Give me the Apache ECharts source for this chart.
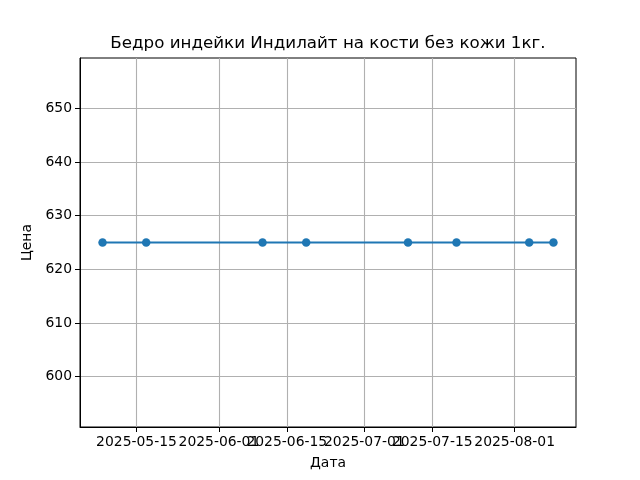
<!DOCTYPE html>
<html><head><meta charset="utf-8">
<script src="https://cdn.jsdelivr.net/npm/echarts@6/dist/echarts.min.js"></script>
<style>html,body{margin:0;padding:0;background:#fff}#c{width:640px;height:480px}</style>
</head><body><div id="c"></div>
<script>
const dates = ["2025-05-08","2025-05-17","2025-06-10","2025-06-19","2025-07-10","2025-07-20","2025-08-04","2025-08-09"];
const prices = [625,625,625,625,625,625,625,625];
const xTickLabels = ["2025-05-15","2025-06-01","2025-06-15","2025-07-01","2025-07-15","2025-08-01"];
const yTicks = [600,610,620,630,640,650];
const title = "Бедро индейки Индилайт на кости без кожи 1кг.";

const ts = s => { const [y,m,d] = s.split('-').map(Number); return Date.UTC(y,m-1,d); };
const xs = dates.map(ts);
const span = xs[xs.length-1]-xs[0];
const xMin = xs[0]-0.05*span, xMax = xs[xs.length-1]+0.05*span;
const v = prices[0];
const yMin = v - 0.055*v, yMax = v + 0.055*v;
const xTickVals = xTickLabels.map(ts);
const pad = n => String(n).padStart(2,'0');
const fmt = t => { const d = new Date(t); return d.getUTCFullYear()+'-'+pad(d.getUTCMonth()+1)+'-'+pad(d.getUTCDate()); };
const F = 'DejaVu Sans';
const chart = echarts.init(document.getElementById('c'));
chart.setOption({
  animation:false,
  graphic:[{type:'text',x:328,y:44,style:{text:title,fontFamily:F,fontSize:16.7,fill:'#000',align:'center',verticalAlign:'middle'}}],
  grid:{left:80,right:64,top:58,bottom:53,show:true,borderColor:'#000',borderWidth:1,backgroundColor:'transparent'},
  xAxis:{type:'value',min:xMin,max:xMax,name:'Дата',nameLocation:'middle',nameGap:29,
    nameTextStyle:{fontFamily:F,fontSize:13.9,color:'#000'},
    axisLine:{show:true,onZero:false,lineStyle:{color:'#000',width:1}},
    axisTick:{show:true,customValues:xTickVals,length:5,lineStyle:{color:'#000'}},
    axisLabel:{customValues:xTickVals,formatter:t=>fmt(t),fontFamily:F,fontSize:13.9,color:'#000',margin:8,hideOverlap:false,showMinLabel:true,showMaxLabel:true},
    splitLine:{show:true,lineStyle:{color:'#b0b0b0',width:1.1}}},
  yAxis:{type:'value',min:yMin,max:yMax,name:'Цена',nameLocation:'middle',nameGap:40,
    nameTextStyle:{fontFamily:F,fontSize:13.9,color:'#000'},
    axisLine:{show:true,lineStyle:{color:'#000',width:1}},
    axisTick:{show:true,customValues:yTicks,length:5,lineStyle:{color:'#000'}},
    axisLabel:{customValues:yTicks,fontFamily:F,fontSize:13.9,color:'#000',margin:8},
    splitLine:{show:true,lineStyle:{color:'#b0b0b0',width:1.1}}},
  series:[{type:'line',data:xs.map((x,i)=>[x,prices[i]]),symbol:'circle',symbolSize:8.5,
    lineStyle:{color:'#1f77b4',width:2},itemStyle:{color:'#1f77b4'}}]
});
</script></body></html>
